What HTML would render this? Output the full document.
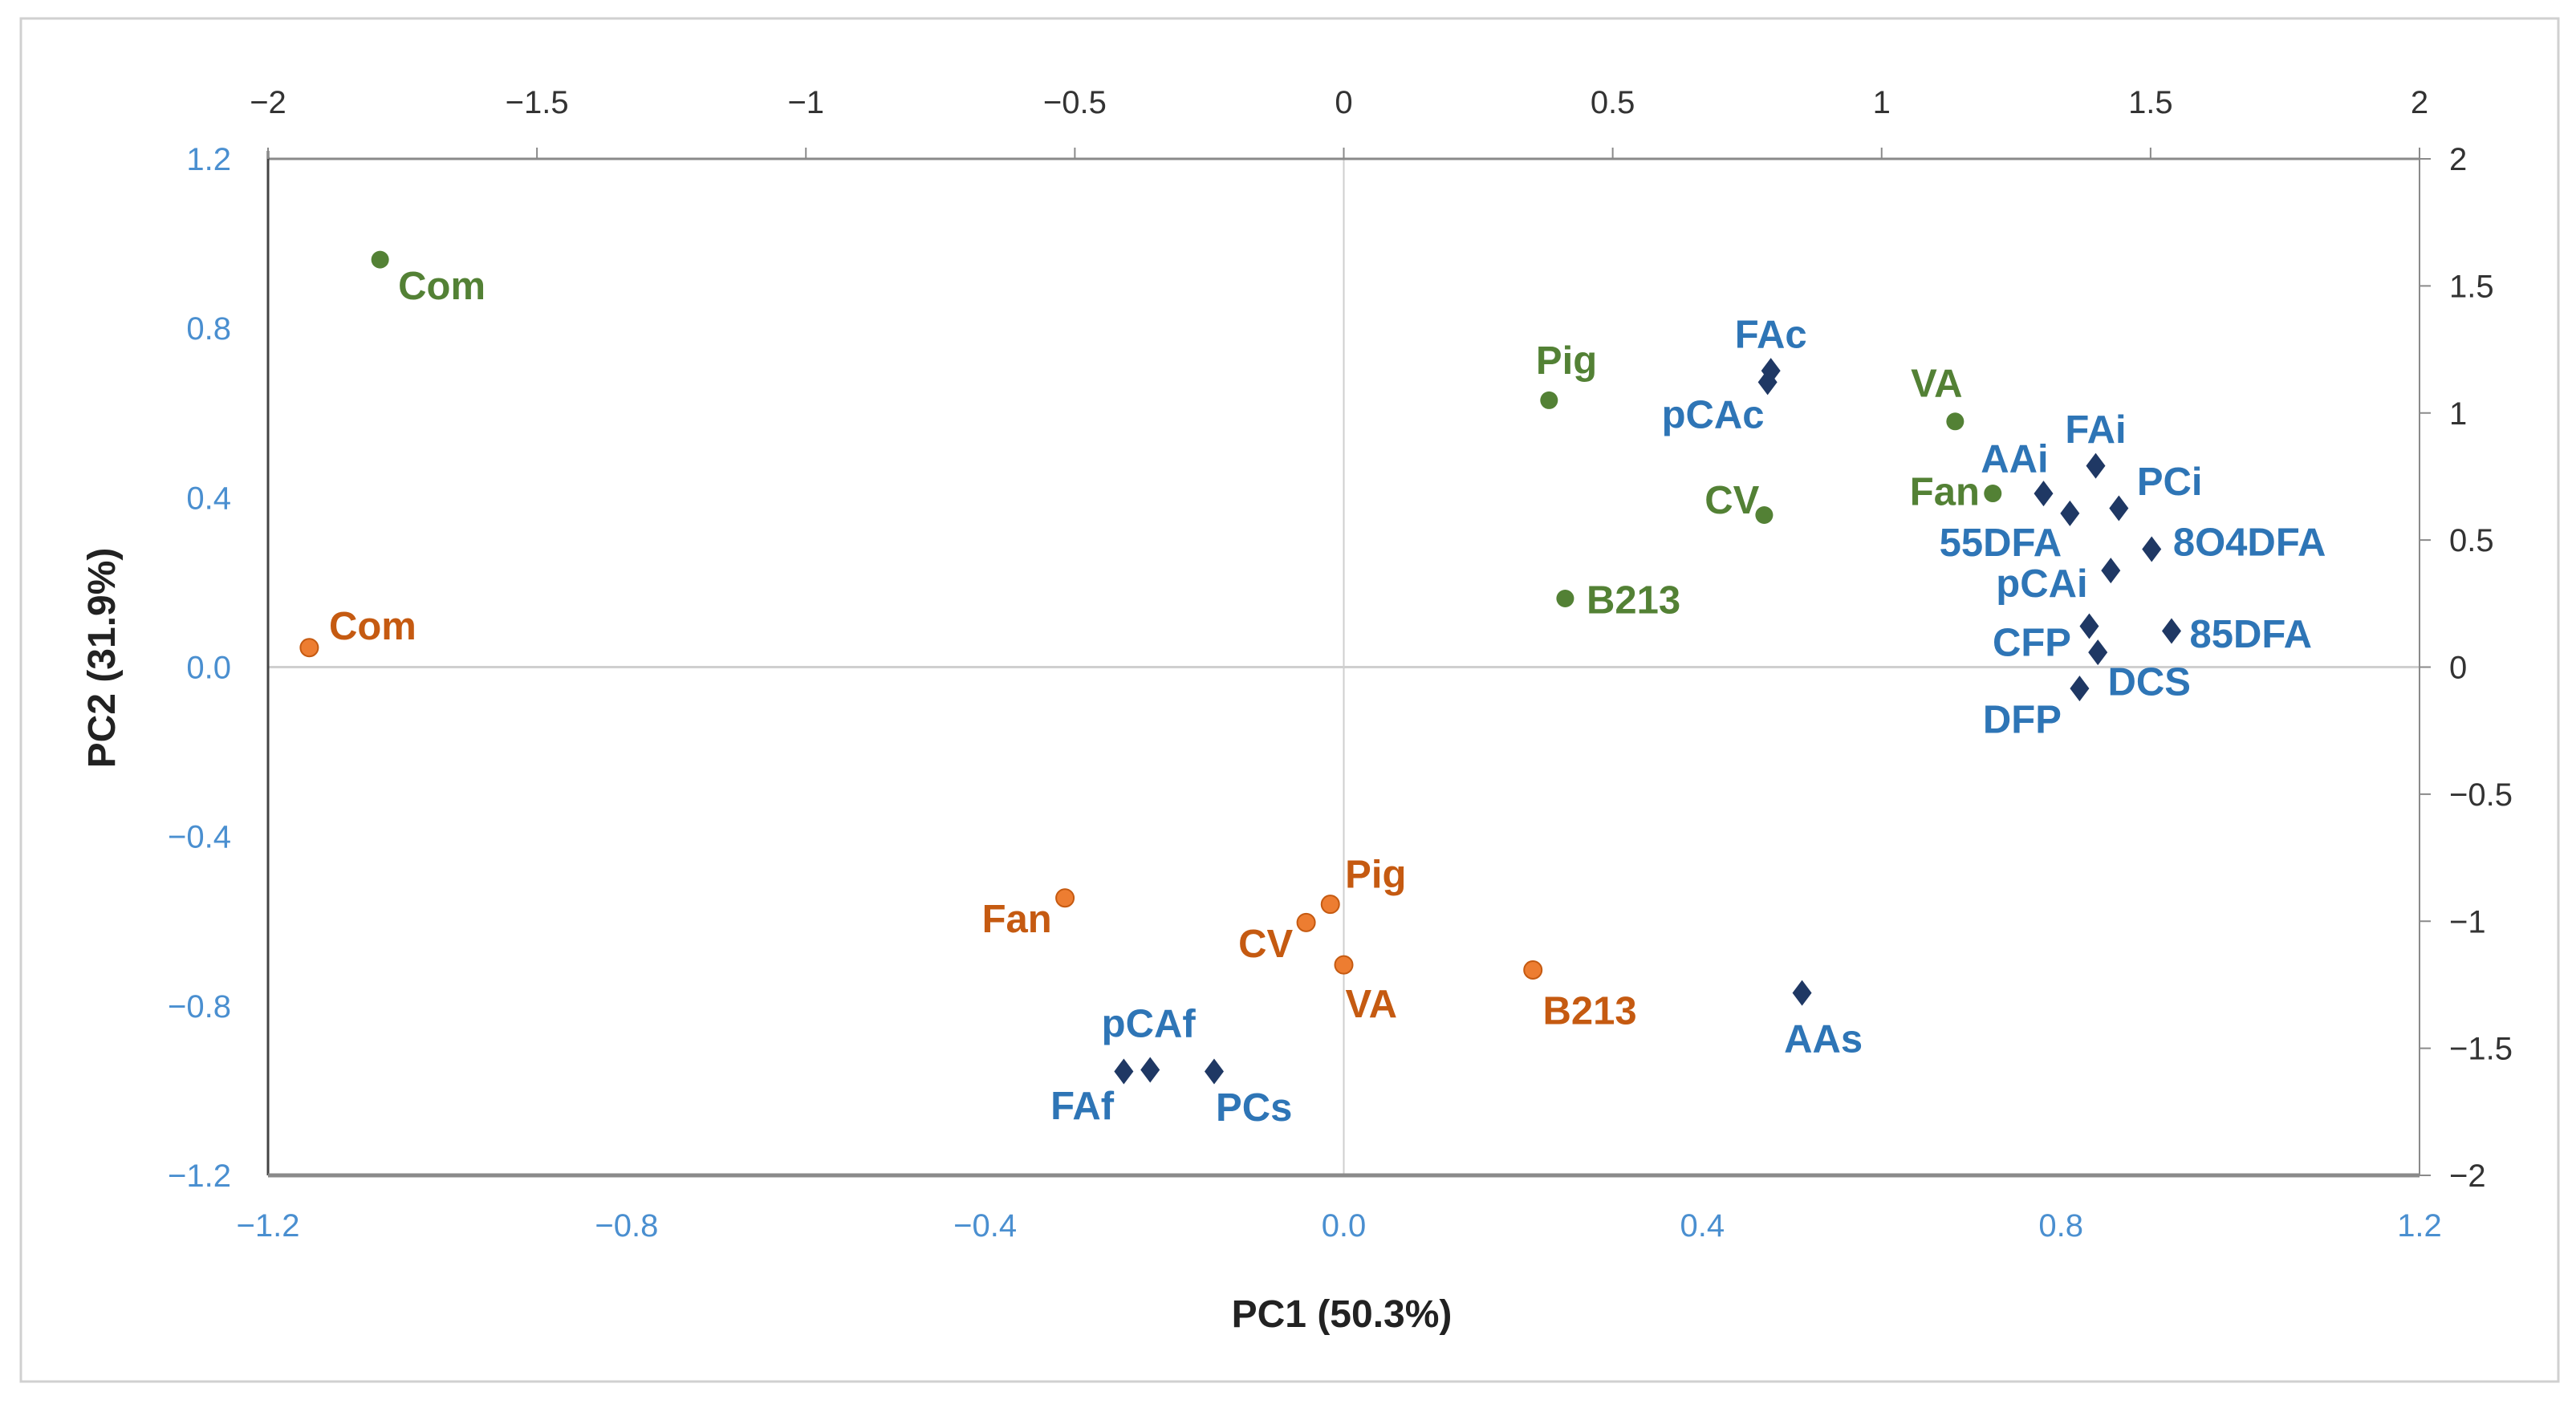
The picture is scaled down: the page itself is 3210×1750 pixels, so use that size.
<!DOCTYPE html>
<html><head><meta charset="utf-8">
<style>
html,body{margin:0;padding:0;background:#fff;}
svg{display:block;font-family:"Liberation Sans",sans-serif;}
</style></head>
<body>
<svg id="chart" width="3210" height="1750" viewBox="0 0 3210 1750" xmlns="http://www.w3.org/2000/svg">
<rect x="26" y="23" width="3162" height="1699" fill="#fff" stroke="#d0d0d0" stroke-width="3"/>
<g id="axes"></g>
<g id="marks"></g>
<text x="1672" y="1654" text-anchor="middle" font-size="48" font-weight="bold" fill="#222">PC1 (50.3%)</text>
<text transform="translate(143,820) rotate(-90)" text-anchor="middle" font-size="48" font-weight="bold" fill="#222">PC2 (31.9%)</text>
</svg>
<script>
// Tick values
const primaryTicks = [-1.2, -0.8, -0.4, 0.0, 0.4, 0.8, 1.2];
const primaryTickLabels = ["\u22121.2","\u22120.8","\u22120.4","0.0","0.4","0.8","1.2"];
const secondaryTicks = [-2, -1.5, -1, -0.5, 0, 0.5, 1, 1.5, 2];
const secondaryTickLabels = ["\u22122","\u22121.5","\u22121","\u22120.5","0","0.5","1","1.5","2"];

// Scores (primary axes) - green series
const greenNames = ["Com","Pig","VA","Fan","CV","B213"];
const greenX = [-1.075, 0.229, 0.682, 0.724, 0.469, 0.247];
const greenY = [0.962, 0.630, 0.580, 0.410, 0.359, 0.162];
// Scores (primary axes) - orange series
const orangeNames = ["Com","Fan","Pig","CV","VA","B213"];
const orangeX = [-1.154, -0.311, -0.015, -0.042, 0.000, 0.211];
const orangeY = [0.046, -0.545, -0.560, -0.603, -0.703, -0.715];
// Loadings (secondary axes) - blue diamonds
const blueNames = ["FAc","pCAc","FAi","AAi","55DFA","PCi","8O4DFA","pCAi","CFP","85DFA","DCS","DFP","AAs","FAf","pCAf","PCs"];
const blueX = [0.794, 0.788, 1.398, 1.301, 1.350, 1.441, 1.502, 1.426, 1.386, 1.539, 1.402, 1.368, 0.852, -0.409, -0.360, -0.241];
const blueY = [1.166, 1.121, 0.792, 0.683, 0.605, 0.625, 0.464, 0.380, 0.161, 0.142, 0.058, -0.084, -1.282, -1.591, -1.585, -1.591];

// label placement (style): [anchor, dx, dy] in reference-scale units
const greenLab = [["start",11,24],["start",-8,-16],["start",-27,-15],["end",-8,7],["end",-3,-1],["start",13,9]];
const orangeLab = [["start",12,-5],["end",-8,21],["start",9,-10],["end",-8,21],["start",1,32],["start",6,33]];
const blueLab = [["middle",0,-14],["end",-2,28],["middle",0,-14],["end",3,-13],["end",-5,26],["start",11,-8],["start",13,4],["end",-14,16],["end",-11,18],["start",11,10],["start",6,26],["end",-11,27],["middle",13,36],["end",-6,29],["middle",-1,-20],["start",1,30]];

const L=334,R=3015,T=198,B=1465;
const px = v => L + (v+1.2)/2.4*(R-L);
const py = v => B - (v+1.2)/2.4*(B-T);
const sx = v => L + (v+2)/4*(R-L);
const sy = v => B - (v+2)/4*(B-T);
const S = 2.047;
const NS="http://www.w3.org/2000/svg";
const axes=document.getElementById('axes'), marks=document.getElementById('marks');
function mk(tag, attrs, parent, txt){const e=document.createElementNS(NS,tag);for(const k in attrs)e.setAttribute(k,attrs[k]);if(txt!==undefined)e.textContent=txt;parent.appendChild(e);return e;}

let e=mk('line',{x1:px(0),x2:px(0),y1:T,y2:B,stroke:'#cfcfcf','stroke-width':2},axes);


e=mk('line',{x1:L,x2:R,y1:py(0),y2:py(0),stroke:'#cfcfcf','stroke-width':3},axes);


e=mk('line',{x1:L,x2:R,y1:T,y2:T,stroke:'#8a8a8a','stroke-width':3},axes);


e=mk('line',{x1:R,x2:R,y1:T,y2:B,stroke:'#8a8a8a','stroke-width':2},axes);


e=mk('line',{x1:L,x2:L,y1:T-10,y2:B,stroke:'#444','stroke-width':3},axes);


e=mk('line',{x1:L,x2:R,y1:B,y2:B,stroke:'#8a8a8a','stroke-width':5},axes);



primaryTicks.forEach((v,i)=>{
  let t=mk('text',{x:px(v),y:1541,'text-anchor':'middle','font-size':40,fill:'#4a8fd0'},axes,primaryTickLabels[i]);
  
  
  t=mk('text',{x:288,y:py(v)+14,'text-anchor':'end','font-size':40,fill:'#4a8fd0'},axes,primaryTickLabels[i]);
  
  
});
secondaryTicks.forEach((v,i)=>{
  let t=mk('text',{x:sx(v),y:141,'text-anchor':'middle','font-size':40,fill:'#333'},axes,secondaryTickLabels[i]);
  
  
  let k=mk('line',{x1:sx(v),x2:sx(v),y1:T,y2:T-14,stroke:'#8a8a8a','stroke-width':2},axes);
  
  
  t=mk('text',{x:3052,y:sy(v)+14,'text-anchor':'start','font-size':40,fill:'#333'},axes,secondaryTickLabels[i]);
  
  
  k=mk('line',{x1:R,x2:R+14,y1:sy(v),y2:sy(v),stroke:'#8a8a8a','stroke-width':2},axes);
  
  
});

function label(x,y,name,lab,color){
  const t=mk('text',{x:x+lab[1]*S,y:y+lab[2]*S,'text-anchor':lab[0],'font-size':49,'font-weight':'bold',fill:color},marks,name);
  
  
}
greenNames.forEach((n,i)=>{
  const x=px(greenX[i]),y=py(greenY[i]);
  const c=mk('circle',{cx:x,cy:y,r:11,fill:'#538135'},marks);
  
  
  label(x,y,n,greenLab[i],'#538135');
});
orangeNames.forEach((n,i)=>{
  const x=px(orangeX[i]),y=py(orangeY[i]);
  const c=mk('circle',{cx:x,cy:y,r:11,fill:'#ed7d31',stroke:'#c55a11','stroke-width':2},marks);
  
  
  label(x,y,n,orangeLab[i],'#c55a11');
});
blueNames.forEach((n,i)=>{
  const x=sx(blueX[i]),y=sy(blueY[i]);
  const d=mk('polygon',{points:`${x},${y-16} ${x+12},${y} ${x},${y+16} ${x-12},${y}`,fill:'#1f3864'},marks);
  
  
  label(x,y,n,blueLab[i],'#2e75b6');
});
</script>
</body></html>
